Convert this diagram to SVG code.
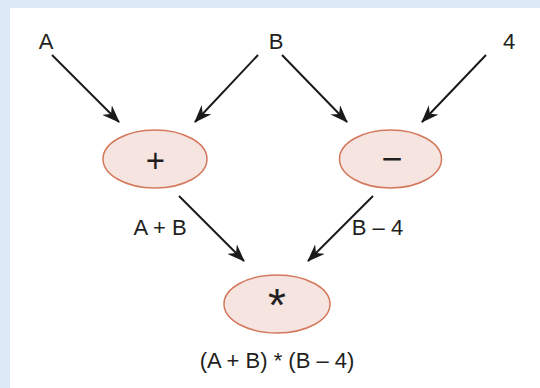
<svg xmlns="http://www.w3.org/2000/svg" width="540" height="388" viewBox="0 0 540 388">
<style>
.t{font-family:"Liberation Sans",Arial,sans-serif;fill:#231f20;text-anchor:middle}
.lbl{font-size:22px}
.n{fill:#f6e4e1;stroke:#d4785c;stroke-width:1.5}
.c{stroke:#1a1a1a;stroke-width:2;fill:none;marker-end:url(#ah)}
</style>
<defs>
<marker id="ah" viewBox="0 0 16 12" refX="15" refY="6" markerWidth="9" markerHeight="6.75" orient="auto" markerUnits="strokeWidth">
<path d="M0,0 L16,6 L0,12 L5,6 Z" fill="#1a1a1a"/>
</marker>
</defs>
<rect width="540" height="388" fill="#dbeaf6"/>
<rect x="10" y="8" width="530" height="380" fill="#fff"/>
<g id="A"><text class="t lbl" x="46" y="49">A</text></g>
<g id="B"><text class="t lbl" x="276" y="49">B</text></g>
<g id="four"><text class="t lbl" x="509" y="49">4</text></g>
<g id="plus"><ellipse class="n" cx="155" cy="159" rx="52" ry="29"/><text class="t" style="font-size:33px" x="155.5" y="172">+</text></g>
<g id="minus"><ellipse class="n" cx="390.5" cy="159" rx="51" ry="29"/><text class="t" style="font-size:36px" x="392" y="171">−</text></g>
<g id="times"><ellipse class="n" cx="277" cy="304" rx="53" ry="29"/><text class="t" style="font-size:46px" x="277" y="321">*</text></g>
<g id="connectors">
<line class="c" x1="52" y1="55" x2="119" y2="122"/>
<line class="c" x1="258" y1="55" x2="195" y2="122"/>
<line class="c" x1="282" y1="55" x2="347" y2="122"/>
<line class="c" x1="486" y1="55" x2="422" y2="122"/>
<line class="c" x1="179" y1="196" x2="244" y2="261"/>
<line class="c" x1="373" y1="196" x2="308" y2="261"/>
<text class="t lbl" x="160" y="235">A + B</text>
<text class="t lbl" x="377.5" y="235">B – 4</text>
</g>
<text class="t lbl" x="277" y="368">(A + B) * (B – 4)</text>
</svg>
